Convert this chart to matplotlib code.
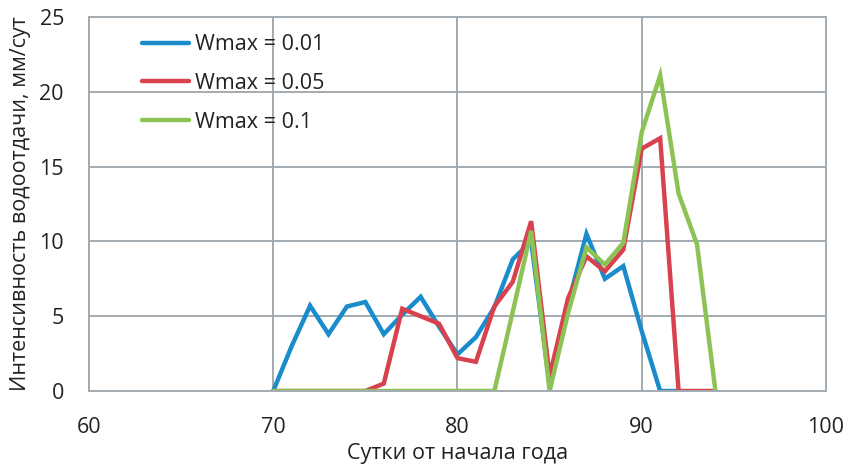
import matplotlib
matplotlib.use("Agg")
import matplotlib.pyplot as plt

plt.rcParams['font.family'] = ['Open Sans', 'DejaVu Sans']

# Water-release intensity by day of year for three Wmax values
days_blue = list(range(70, 93))
w001 = [0, 3.0, 5.7, 3.8, 5.65, 5.95, 3.8, 5.1, 6.3, 4.3, 2.45, 3.6, 5.6,
        8.8, 10.0, 0.4, 5.8, 10.5, 7.5, 8.35, 4.0, 0, 0]

days_red = list(range(70, 95))
w005 = [0, 0, 0, 0, 0, 0, 0.5, 5.5, 5.0, 4.5, 2.2, 1.95, 5.65,
        7.3, 11.35, 1.0, 6.2, 9.0, 8.0, 9.45, 16.2, 16.9, 0, 0, 0]

days_green = list(range(70, 95))
w01 = [0, 0, 0, 0, 0, 0, 0, 0, 0, 0, 0, 0, 0,
       5.3, 10.7, 0, 5.2, 9.6, 8.45, 9.9, 17.3, 21.1, 13.2, 9.8, 0]

labels = ['Wmax = 0.01', 'Wmax = 0.05', 'Wmax = 0.1']
colors = ['#1a8ccc', '#d8424e', '#8cc354']

fig = plt.figure(figsize=(8.54, 4.67), dpi=100)
ax = fig.add_axes([0.1042, 0.1627, 0.8630, 0.8009])

lw = 3.2
for d, v, c, lab in [(days_blue, w001, colors[0], labels[0]),
                     (days_red, w005, colors[1], labels[1]),
                     (days_green, w01, colors[2], labels[2])]:
    ax.plot(d, v, color=c, lw=lw, label=lab,
            solid_joinstyle='miter', solid_capstyle='round')

ax.set_xlim(60, 100)
ax.set_ylim(0, 25)
ax.set_xticks([60, 70, 80, 90, 100])
ax.set_yticks([0, 5, 10, 15, 20, 25])

gridc = '#a3abb0'
ax.grid(True, color=gridc, lw=1.4)
ax.set_axisbelow(True)
for s in ax.spines.values():
    s.set_color(gridc)
    s.set_linewidth(1.4)

fs = 15.5
ax.tick_params(length=0, labelsize=fs, colors='#222222')
ax.tick_params(axis='x', pad=19)
ax.tick_params(axis='y', pad=18)

ax.set_xlabel('Сутки от начала года', fontsize=fs, color='#222222', labelpad=3)
ax.set_ylabel('Интенсивность водоотдачи, мм/сут', fontsize=fs, color='#222222', labelpad=6)

leg = ax.legend(loc='upper left', bbox_to_anchor=(0.072, 0.954), frameon=False,
                borderaxespad=0, borderpad=0,
                fontsize=fs, handlelength=2.2, labelspacing=0.82, handletextpad=0.25)
for t in leg.get_texts():
    t.set_color('#222222')

fig.savefig('out.png', dpi=100)
